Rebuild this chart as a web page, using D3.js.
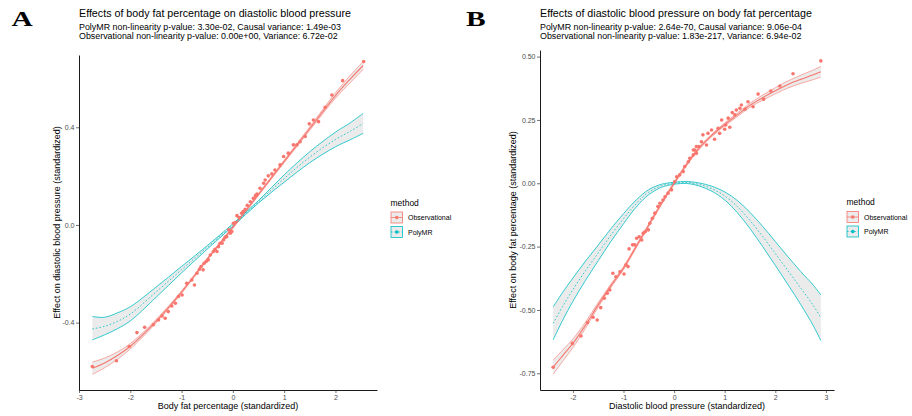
<!DOCTYPE html>
<html><head><meta charset="utf-8">
<script src="https://cdn.jsdelivr.net/npm/d3@7"></script>
<style>body{margin:0;background:#fff}svg{display:block;font-family:"Liberation Sans",Arial,sans-serif}</style>
</head><body><svg id="c" width="912" height="416"></svg>
<script>
// ---------- Panel A data ----------
const aTitle = "Effects of body fat percentage on diastolic blood pressure";
const aSub1 = "PolyMR non-linearity p-value: 3.30e-02, Causal variance: 1.49e-03";
const aSub2 = "Observational non-linearity p-value: 0.00e+00, Variance: 6.72e-02";
const aXLabel = "Body fat percentage (standardized)";
const aYLabel = "Effect on diastolic blood pressure (standardized)";
const aXTicks = [-3,-2,-1,0,1,2];
const aXTickLabels = ["-3","-2","-1","0","1","2"];
const aYTicks = [-0.4,0.0,0.4];
const aYTickLabels = ["-0.4","0.0","0.4"];
const aCurveX = [-2.74,-2.5,-2.25,-2,-1.5,-1,-0.5,0,0.5,1,1.5,2,2.3,2.54];
const aObsFit = [-0.587,-0.565,-0.535,-0.497,-0.395,-0.275,-0.14,-0.01,0.125,0.26,0.395,0.53,0.6,0.653];
const aObsLow = [-0.612,-0.585,-0.55,-0.508,-0.402,-0.28,-0.144,-0.014,0.121,0.255,0.388,0.519,0.585,0.637];
const aObsUp  = [-0.562,-0.545,-0.52,-0.486,-0.388,-0.27,-0.136,-0.006,0.129,0.265,0.402,0.541,0.615,0.669];
const aMrFit = [-0.426,-0.415,-0.395,-0.365,-0.275,-0.183,-0.092,0.0,0.095,0.19,0.278,0.35,0.385,0.416];
const aMrLow = [-0.471,-0.45,-0.425,-0.393,-0.297,-0.196,-0.099,-0.005,0.09,0.175,0.255,0.32,0.35,0.375];
const aMrUp  = [-0.375,-0.378,-0.36,-0.335,-0.255,-0.17,-0.085,0.005,0.1,0.205,0.3,0.38,0.42,0.457];
const aPtX = [-2.74,-2.27,-2.02,-1.87,-1.72,-1.55,-1.45,-1.38,-1.32,-1.26,-1.19,-1.12,-1.06,-0.99,-0.90,-0.80,-0.75,-0.70,-0.65,-0.62,-0.58,-0.56,-0.52,-0.48,-0.44,-0.38,-0.35,-0.31,-0.28,-0.25,-0.21,-0.18,-0.15,-0.12,-0.08,-0.05,-0.02,0.01,0.05,0.08,0.12,0.17,0.20,0.24,0.28,0.34,0.40,0.44,0.47,0.53,0.60,0.63,0.69,0.76,0.82,0.92,0.99,1.08,1.18,1.25,1.31,1.41,1.49,1.57,1.67,1.80,1.93,2.14,2.55];
const aPtY = [-0.58,-0.556,-0.498,-0.441,-0.419,-0.409,-0.389,-0.373,-0.382,-0.355,-0.332,-0.321,-0.293,-0.287,-0.239,-0.225,-0.246,-0.198,-0.181,-0.17,-0.184,-0.157,-0.15,-0.143,-0.123,-0.109,-0.10,-0.109,-0.089,-0.075,-0.075,-0.061,-0.05,-0.048,-0.02,-0.034,-0.027,0.007,0.01,0.038,0.03,0.048,0.055,0.064,0.08,0.095,0.109,0.12,0.127,0.150,0.171,0.184,0.201,0.209,0.225,0.246,0.280,0.294,0.328,0.328,0.341,0.362,0.414,0.430,0.423,0.482,0.532,0.591,0.669];

// ---------- Panel B data ----------
const bTitle = "Effects of diastolic blood pressure on body fat percentage";
const bSub1 = "PolyMR non-linearity p-value: 2.64e-70, Causal variance: 9.06e-04";
const bSub2 = "Observational non-linearity p-value: 1.83e-217, Variance: 6.94e-02";
const bXLabel = "Diastolic blood pressure (standardized)";
const bYLabel = "Effect on body fat percentage (standardized)";
const bXTicks = [-2,-1,0,1,2,3];
const bXTickLabels = ["-2","-1","0","1","2","3"];
const bYTicks = [-0.75,-0.5,-0.25,0,0.25,0.5];
const bYTickLabels = ["-0.75","-0.50","-0.25","0.00","0.25","0.50"];
const bCurveX = [-2.39,-2.2,-2,-1.75,-1.5,-1.25,-1,-0.75,-0.5,-0.25,0,0.25,0.5,0.75,1,1.25,1.5,1.75,2,2.25,2.5,2.75,2.9];
const bObsFit = [-0.726,-0.68,-0.632,-0.56,-0.48,-0.405,-0.335,-0.25,-0.165,-0.08,0.0,0.075,0.14,0.19,0.232,0.27,0.308,0.338,0.365,0.39,0.41,0.428,0.44];
const bObsLow = [-0.754,-0.702,-0.649,-0.572,-0.489,-0.412,-0.341,-0.255,-0.17,-0.085,-0.005,0.07,0.135,0.185,0.226,0.263,0.3,0.328,0.353,0.376,0.394,0.409,0.419];
const bObsUp  = [-0.698,-0.658,-0.615,-0.548,-0.471,-0.398,-0.329,-0.245,-0.16,-0.075,0.005,0.08,0.145,0.195,0.238,0.277,0.316,0.348,0.377,0.404,0.426,0.447,0.461];
const bMrFit = [-0.553,-0.485,-0.42,-0.345,-0.275,-0.205,-0.14,-0.08,-0.035,-0.01,0.0,0.003,-0.005,-0.022,-0.05,-0.092,-0.147,-0.21,-0.277,-0.345,-0.413,-0.482,-0.531];
const bMrLow = [-0.618,-0.54,-0.466,-0.383,-0.306,-0.23,-0.16,-0.094,-0.045,-0.016,-0.004,-0.001,-0.011,-0.032,-0.066,-0.116,-0.179,-0.25,-0.324,-0.4,-0.478,-0.562,-0.621];
const bMrUp  = [-0.488,-0.43,-0.374,-0.307,-0.244,-0.18,-0.12,-0.066,-0.025,-0.004,0.004,0.007,0.001,-0.012,-0.034,-0.068,-0.115,-0.17,-0.23,-0.29,-0.348,-0.402,-0.441];
const bPtX = [-2.39,-2.01,-1.84,-1.71,-1.60,-1.52,-1.45,-1.38,-1.32,-1.27,-1.21,-1.15,-1.07,-0.99,-0.95,-0.91,-0.89,-0.82,-0.78,-0.74,-0.69,-0.64,-0.61,-0.57,-0.51,-0.48,-0.43,-0.38,-0.32,-0.28,-0.22,-0.18,-0.12,-0.05,0.01,0.05,0.11,0.18,0.21,0.28,0.31,0.38,0.38,0.41,0.44,0.44,0.49,0.54,0.57,0.64,0.67,0.74,0.80,0.87,0.90,0.94,1.00,1.02,1.07,1.10,1.15,1.20,1.23,1.30,1.33,1.40,1.46,1.56,1.66,1.77,1.91,2.09,2.35,2.90];
const bPtY = [-0.726,-0.632,-0.603,-0.550,-0.529,-0.540,-0.491,-0.454,-0.434,-0.421,-0.355,-0.369,-0.349,-0.358,-0.322,-0.329,-0.259,-0.243,-0.243,-0.217,-0.211,-0.224,-0.197,-0.191,-0.184,-0.158,-0.138,-0.118,-0.092,-0.079,-0.066,-0.053,-0.039,-0.026,0.006,0.026,0.033,0.046,0.066,0.085,0.099,0.112,0.131,0.131,0.118,0.145,0.145,0.164,0.191,0.151,0.197,0.210,0.174,0.217,0.197,0.250,0.213,0.230,0.257,0.221,0.279,0.270,0.289,0.296,0.309,0.292,0.322,0.302,0.352,0.332,0.364,0.384,0.432,0.483];

const methods = ["Observational","PolyMR"];
const RED = "#F8766D", CYAN = "#00BFC4";

const svg = d3.select("#c");

function rows(xs, f, lo, hi){ return xs.map((v,i)=>({x:v, f:f[i], lo:lo[i], hi:hi[i]})); }

function panel(o){
  const x = d3.scaleLinear().domain(o.xDomain).range([o.left,o.right]);
  const y = d3.scaleLinear().domain(o.yDomain).range([o.bottom,o.top]);
  const g = svg.append("g");
  const obs = rows(o.cx, o.obsFit, o.obsLow, o.obsUp);
  const mr = rows(o.cx, o.mrFit, o.mrLow, o.mrUp);
  const curve = d3.curveCatmullRom.alpha(0.5);
  const area = d3.area().x(d=>x(d.x)).y0(d=>y(d.lo)).y1(d=>y(d.hi)).curve(curve);
  const line = k => d3.line().x(d=>x(d.x)).y(d=>y(d[k])).curve(curve);

  g.append("path").datum(obs).attr("d",area).attr("fill","#999").attr("fill-opacity",0.2);
  g.append("path").datum(mr).attr("d",area).attr("fill","#999").attr("fill-opacity",0.2);
  ["lo","hi"].forEach(k=>{
    g.append("path").datum(obs).attr("d",line(k)).attr("fill","none").attr("stroke",RED).attr("stroke-width",0.6);
    g.append("path").datum(mr).attr("d",line(k)).attr("fill","none").attr("stroke",CYAN).attr("stroke-width",0.8);
  });
  g.append("path").datum(obs).attr("d",line("f")).attr("fill","none").attr("stroke",RED).attr("stroke-width",1.1);
  g.append("path").datum(mr).attr("d",line("f")).attr("fill","none").attr("stroke",CYAN).attr("stroke-width",0.8).attr("stroke-dasharray","1.6,2");
  g.selectAll("circle.p").data(o.px.map((v,i)=>({x:v,y:o.py[i]}))).join("circle")
    .attr("cx",d=>x(d.x)).attr("cy",d=>y(d.y)).attr("r",1.8).attr("fill",RED);

  const ax = g.append("g").attr("transform",`translate(0,${o.bottom})`)
    .call(d3.axisBottom(x).tickValues(o.xTicks).tickFormat((d,i)=>o.xTickLabels[i]).tickSize(3).tickSizeOuter(0).tickPadding(2));
  const ay = g.append("g").attr("transform",`translate(${o.left},0)`)
    .call(d3.axisLeft(y).tickValues(o.yTicks).tickFormat((d,i)=>o.yTickLabels[i]).tickSize(3).tickSizeOuter(0).tickPadding(1.5));
  [ax,ay].forEach(a=>{
    a.select(".domain").attr("stroke","#000").attr("stroke-width",0.9);
    a.selectAll(".tick line").attr("stroke","#333").attr("stroke-width",0.7);
    a.selectAll(".tick text").attr("fill","#4d4d4d").attr("font-size",7).attr("font-family","Liberation Sans, Arial, sans-serif");
  });

  g.append("text").attr("x",o.left).attr("y",17).attr("font-size",10.7).text(o.title);
  g.append("text").attr("x",o.left).attr("y",29.5).attr("font-size",8.9).text(o.sub1);
  g.append("text").attr("x",o.left).attr("y",39).attr("font-size",8.9).text(o.sub2);
  g.append("text").attr("x",(o.left+o.right)/2).attr("y",409).attr("text-anchor","middle").attr("font-size",9).text(o.xLabel);
  g.append("text").attr("transform",`translate(${o.yLabelX},${(o.top+o.bottom)/2}) rotate(-90)`).attr("text-anchor","middle").attr("font-size",9).text(o.yLabel);

  // panel letter
  g.append("text").attr("transform",`translate(${o.letterX},26) scale(1.4,1)`)
    .attr("font-family","Liberation Serif, serif").attr("font-weight","bold").attr("font-size",21).text(o.letter);

  // legend
  const lg = g.append("g").attr("transform",`translate(${o.legX},${o.legY})`);
  lg.append("text").attr("x",0).attr("y",0).attr("font-size",8.5).text("method");
  methods.forEach((m,i)=>{
    const col = i===0?RED:CYAN;
    const ky = 6 + i*14.5;
    const kg = lg.append("g").attr("transform",`translate(0,${ky})`);
    kg.append("rect").attr("x",0.5).attr("y",0.5).attr("width",11.5).attr("height",11).attr("fill","#999").attr("fill-opacity",0.2).attr("stroke",col).attr("stroke-width",0.8);
    kg.append("line").attr("x1",0.5).attr("x2",12).attr("y1",6).attr("y2",6).attr("stroke",col).attr("stroke-width",0.8).attr("stroke-dasharray",i===0?null:"1.6,2");
    kg.append("circle").attr("cx",6.25).attr("cy",6).attr("r",1.8).attr("fill",col);
    lg.append("text").attr("x",17.5).attr("y",ky+8.5).attr("font-size",7).text(m);
  });
}

panel({left:79,right:377,top:55,bottom:390,xDomain:[-3.0,2.81],yDomain:[-0.676,0.696],
  cx:aCurveX,obsFit:aObsFit,obsLow:aObsLow,obsUp:aObsUp,mrFit:aMrFit,mrLow:aMrLow,mrUp:aMrUp,
  px:aPtX,py:aPtY,xTicks:aXTicks,xTickLabels:aXTickLabels,yTicks:aYTicks,yTickLabels:aYTickLabels,
  title:aTitle,sub1:aSub1,sub2:aSub2,xLabel:aXLabel,yLabel:aYLabel,yLabelX:59.5,
  letter:"A",letterX:11.5,legX:390.5,legY:205.5});
panel({left:540,right:834,top:50,bottom:390,xDomain:[-2.65,3.16],yDomain:[-0.816,0.526],
  cx:bCurveX,obsFit:bObsFit,obsLow:bObsLow,obsUp:bObsUp,mrFit:bMrFit,mrLow:bMrLow,mrUp:bMrUp,
  px:bPtX,py:bPtY,xTicks:bXTicks,xTickLabels:bXTickLabels,yTicks:bYTicks,yTickLabels:bYTickLabels,
  title:bTitle,sub1:bSub1,sub2:bSub2,xLabel:bXLabel,yLabel:bYLabel,yLabelX:516,
  letter:"B",letterX:466,legX:846.5,legY:205});
</script></body></html>
